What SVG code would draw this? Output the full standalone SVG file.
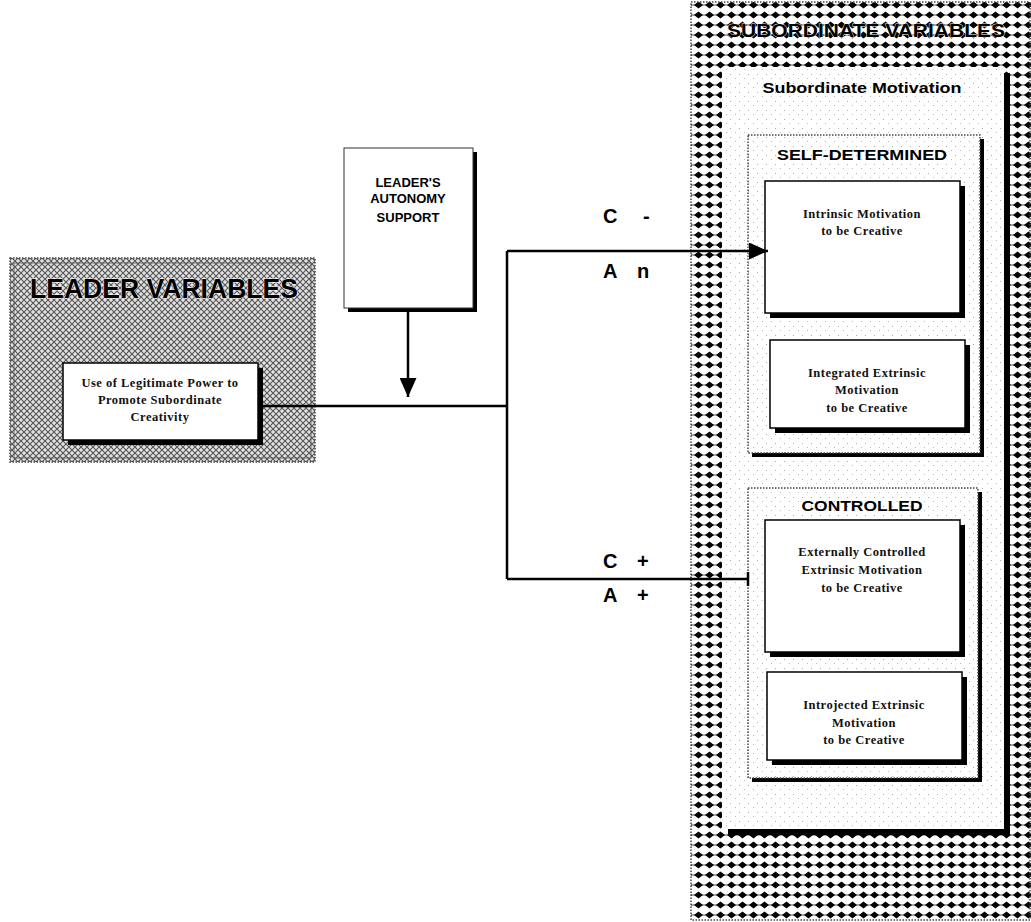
<svg xmlns="http://www.w3.org/2000/svg" width="1031" height="922" viewBox="0 0 1031 922">
<style>
.dot{fill:none;stroke:#444;stroke-width:1.5;stroke-dasharray:1.5 1.5}
.sh{fill:#000}
.wb{fill:#fff;stroke:#000;stroke-width:1.5}
.lbl{font-family:"Liberation Serif",serif;font-weight:bold;font-size:12.5px;fill:#111;text-anchor:middle;letter-spacing:0.5px}
.hd{font-family:"Liberation Sans",Arial,sans-serif;font-weight:bold;fill:#000;text-anchor:middle}
.big{font-family:"Liberation Sans",Arial,sans-serif;font-weight:900;fill:#000;stroke:#fff;stroke-width:0.8;paint-order:stroke}
.ca{font-family:"Liberation Sans",Arial,sans-serif;font-weight:bold;font-size:20px;fill:#000}
.ln{fill:none;stroke:#000;stroke-width:2.5}
</style>
<defs>
<pattern id="hatch" width="6" height="6" patternUnits="userSpaceOnUse">
<rect width="6" height="6" fill="#e2e2e2"/>
<path d="M0 0L6 6M6 0L0 6" stroke="#555" stroke-width="1.1"/>
</pattern>
<pattern id="diam" width="11" height="10" patternUnits="userSpaceOnUse">
<rect width="11" height="10" fill="#fff"/>
<path d="M0 5H11" stroke="#222" stroke-width="0.8"/>
<polygon points="5.5,1.5 10,5 5.5,8.5 1,5" fill="#000"/>
</pattern>
<pattern id="speck" width="9" height="9" patternUnits="userSpaceOnUse">
<rect width="9" height="9" fill="#fff"/>
<rect x="1" y="2" width="1" height="1" fill="#aaa"/>
<rect x="6" y="6" width="1" height="1" fill="#bbb"/>
</pattern>
<marker id="ah" viewBox="0 0 10 10" refX="10" refY="5" markerWidth="19" markerHeight="17" markerUnits="userSpaceOnUse" orient="auto" preserveAspectRatio="none">
<path d="M0 0L10 5L0 10Z" fill="#000"/>
</marker>
</defs>
<rect width="1031" height="922" fill="#fff"/>

<g id="leader-variables">
<rect x="10" y="258" width="305" height="204" fill="url(#hatch)"/>
<rect x="10" y="258" width="305" height="204" class="dot"/>
<rect x="14" y="263" width="297" height="195" fill="none" stroke="#555" stroke-width="0.8"/>
<text x="30" y="298" class="big" font-size="27" textLength="268" lengthAdjust="spacingAndGlyphs">LEADER VARIABLES</text>
</g>

<g id="legitimate-power">
<rect x="68" y="368" width="195" height="77" class="sh"/>
<rect x="63" y="363" width="195" height="77" class="wb"/>
<text class="lbl"><tspan x="160" y="387">Use of Legitimate Power to</tspan><tspan x="160" y="404">Promote Subordinate</tspan><tspan x="160" y="421">Creativity</tspan></text>
</g>

<g id="autonomy-support">
<rect x="348" y="152" width="129" height="160" class="sh"/>
<rect x="344" y="148" width="129" height="160" fill="#fff" stroke="#333" stroke-width="1"/>
<text class="hd" font-size="13"><tspan x="408" y="187">LEADER'S</tspan><tspan x="408" y="203">AUTONOMY</tspan><tspan x="408" y="222">SUPPORT</tspan></text>
</g>

<g id="subordinate-variables">
<rect x="691" y="2" width="340" height="918" fill="url(#diam)"/>
<rect x="691" y="2" width="339" height="918" class="dot"/>
<text x="727" y="37" class="big" font-size="19" textLength="278" lengthAdjust="spacingAndGlyphs" stroke-width="1.5">SUBORDINATE VARIABLES</text>
</g>

<g id="subordinate-motivation">
<rect x="728" y="73" width="282" height="762" class="sh"/>
<rect x="722" y="67" width="282" height="762" fill="url(#speck)"/>
<text x="862" y="93" class="hd" font-size="15" textLength="199" lengthAdjust="spacingAndGlyphs">Subordinate Motivation</text>
</g>

<g id="self-determined">
<rect x="752" y="139" width="232" height="318" class="sh"/>
<rect x="748" y="135" width="232" height="318" fill="url(#speck)"/>
<rect x="748" y="135" width="232" height="318" class="dot" stroke-width="1"/>
<text x="862" y="160" class="hd" font-size="15" textLength="170" lengthAdjust="spacingAndGlyphs">SELF-DETERMINED</text>
</g>

<g id="intrinsic">
<rect x="770" y="186" width="195" height="132" class="sh"/>
<rect x="765" y="181" width="195" height="132" class="wb"/>
<text class="lbl"><tspan x="862" y="218">Intrinsic Motivation</tspan><tspan x="862" y="235">to be Creative</tspan></text>
</g>

<g id="integrated">
<rect x="775" y="345" width="195" height="88" class="sh"/>
<rect x="770" y="340" width="195" height="88" class="wb"/>
<text class="lbl"><tspan x="867" y="377">Integrated  Extrinsic</tspan><tspan x="867" y="394">Motivation</tspan><tspan x="867" y="412">to be Creative</tspan></text>
</g>

<g id="controlled">
<rect x="752" y="492" width="230" height="290" class="sh"/>
<rect x="748" y="488" width="230" height="290" fill="url(#speck)"/>
<rect x="748" y="488" width="230" height="290" class="dot" stroke-width="1"/>
<text x="862" y="511" class="hd" font-size="15" textLength="121" lengthAdjust="spacingAndGlyphs">CONTROLLED</text>
</g>

<g id="externally-controlled">
<rect x="770" y="525" width="195" height="132" class="sh"/>
<rect x="765" y="520" width="195" height="132" class="wb"/>
<text class="lbl"><tspan x="862" y="556">Externally Controlled</tspan><tspan x="862" y="574">Extrinsic Motivation</tspan><tspan x="862" y="592">to be Creative</tspan></text>
</g>

<g id="introjected">
<rect x="772" y="677" width="195" height="88" class="sh"/>
<rect x="767" y="672" width="195" height="88" class="wb"/>
<text class="lbl"><tspan x="864" y="709">Introjected Extrinsic</tspan><tspan x="864" y="727">Motivation</tspan><tspan x="864" y="744">to be Creative</tspan></text>
</g>

<g id="connectors">
<path class="ln" d="M258 406H507"/>
<path class="ln" d="M507 251V579"/>
<path class="ln" d="M507 251H768" marker-end="url(#ah)"/>
<path class="ln" d="M507 579H748"/>
<path class="ln" d="M748 572V586" stroke-width="1.5"/>
<path class="ln" d="M408 309V397" marker-end="url(#ah)"/>
<text x="603" y="223" class="ca">C</text>
<text x="643" y="223" class="ca">-</text>
<text x="603" y="278" class="ca">A</text>
<text x="637" y="278" class="ca">n</text>
<text x="603" y="568" class="ca">C</text>
<text x="637" y="568" class="ca">+</text>
<text x="603" y="602" class="ca">A</text>
<text x="637" y="602" class="ca">+</text>
</g>
</svg>
